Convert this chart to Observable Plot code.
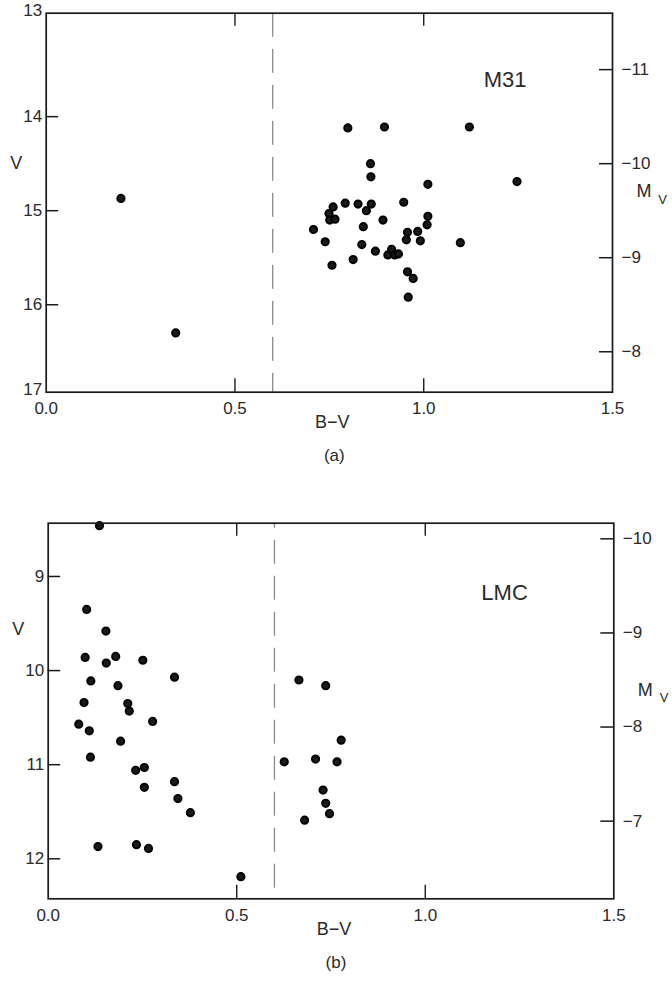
<!DOCTYPE html>
<html>
<head>
<meta charset="utf-8">
<script src="https://cdn.jsdelivr.net/npm/d3@7"></script>
<script src="https://cdn.jsdelivr.net/npm/@observablehq/plot@0.6"></script>
<style>
  html, body { margin: 0; padding: 0; background: #fff; }
  #wrap { width: 672px; height: 982px; position: relative; }
  svg { display: block; }
</style>
</head>
<body>
<div id="wrap"></div>
<script>
// ---- Data: M31 (panel a) ----
const m31BV = [0.799, 0.896, 1.121, 0.859, 0.860, 1.011, 1.247, 0.760, 0.792, 0.826,
               0.848, 0.861, 0.947, 0.749, 0.751, 0.765, 0.892, 1.011, 1.009, 0.708,
               0.840, 0.957, 0.984, 0.954, 0.991, 1.097, 0.739, 0.836, 0.872, 0.905,
               0.915, 0.923, 0.933, 0.813, 0.757, 0.957, 0.972, 0.959, 0.198, 0.343];
const m31V  = [14.12, 14.11, 14.11, 14.50, 14.64, 14.72, 14.69, 14.96, 14.92, 14.93,
               15.00, 14.93, 14.91, 15.03, 15.10, 15.09, 15.10, 15.06, 15.15, 15.20,
               15.17, 15.23, 15.22, 15.31, 15.32, 15.34, 15.33, 15.36, 15.43, 15.47,
               15.41, 15.47, 15.46, 15.52, 15.58, 15.65, 15.72, 15.92, 14.87, 16.30];

// ---- Data: LMC (panel b) ----
const lmcBV = [0.136, 0.102, 0.153, 0.098, 0.154, 0.179, 0.251, 0.335, 0.113, 0.185,
               0.095, 0.211, 0.215, 0.277, 0.081, 0.109, 0.192, 0.112, 0.232, 0.255,
               0.255, 0.335, 0.344, 0.377, 0.132, 0.234, 0.266, 0.511,
               0.665, 0.736, 0.777, 0.626, 0.709, 0.766, 0.729, 0.736, 0.746, 0.680];
const lmcV  = [8.46, 9.35, 9.58, 9.86, 9.92, 9.85, 9.89, 10.07, 10.11, 10.16,
               10.34, 10.35, 10.43, 10.54, 10.57, 10.64, 10.75, 10.92, 11.06, 11.03,
               11.24, 11.18, 11.36, 11.51, 11.87, 11.85, 11.89, 12.19,
               10.10, 10.16, 10.74, 10.97, 10.94, 10.97, 11.27, 11.41, 11.52, 11.59];

// ---- Axes / tick labels ----
const bvDomain = [0, 1.5];
const bvLabels = [0.0, 0.5, 1.0, 1.5];
const bvInnerTicks = [0.5, 1.0];
const bvCut = [0.6];

const m31Domain = [12.9, 16.93];
const m31VTicks = [14, 15, 16];
const m31VCorner = [12.9, 16.93];   // shown as 13 and 17 at frame corners
const m31MTicks = [-11, -10, -9, -8];
const m31DM = 24.5;

const lmcDomain = [8.434, 12.425];
const lmcVTicks = [9, 10, 11, 12];
const lmcMTicks = [-10, -9, -8, -7];
const lmcDM = 18.6;

const FONT = "'Liberation Sans', Arial, Helvetica, sans-serif";
const INK = "#2a2a2a";
const TICKFS = 17;

function panel(cfg) {
  const W = cfg.width - cfg.marginLeft - cfg.marginRight;
  const H = cfg.height - cfg.marginTop - cfg.marginBottom;
  const pts = cfg.bv.map((b, i) => ({bv: b, v: cfg.v[i]}));
  const mPos = cfg.mTicks.map(m => m + cfg.dm);
  const marks = [
    Plot.ruleX(bvCut, {x: d => d, stroke: "#8a8a8a", strokeWidth: 1.3, strokeDasharray: "24,12", strokeDashoffset: cfg.dashOffset}),
    Plot.dot(pts, {x: "bv", y: "v", r: 3.6, fill: "#1a1a1a", stroke: "#000", strokeWidth: 2}),
    Plot.frame({stroke: "#1a1a1a", strokeWidth: 1.7}),
    // inward ticks
    Plot.tickY(cfg.vTicks, {y: d => d, insetRight: W - 12.5, stroke: "#1a1a1a", strokeWidth: 1.5}),
    Plot.tickY(mPos, {y: d => d, insetLeft: W - 13, stroke: "#1a1a1a", strokeWidth: 1.5}),
    Plot.tickX(bvInnerTicks, {x: d => d, insetTop: H - 13.5, stroke: "#1a1a1a", strokeWidth: 1.4}),
    Plot.tickX(bvInnerTicks, {x: d => d, insetBottom: H - 13, stroke: "#1a1a1a", strokeWidth: 1.4}),
    // tick labels
    Plot.axisX(bvLabels, {anchor: "bottom", tickSize: 0, tickPadding: 10, tickFormat: d3.format(".1f"), fontSize: TICKFS, fill: INK, label: null}),
    Plot.axisY(cfg.vTicks, {anchor: "left", tickSize: 0, tickPadding: 4, tickFormat: d => String(d), fontSize: TICKFS, fill: INK, label: null}),
    Plot.axisY(mPos, {anchor: "right", tickSize: 0, tickPadding: 9, tickFormat: v => "\u2212" + Math.round(Math.abs(v - cfg.dm)), fontSize: TICKFS, fill: INK, label: null}),
    // axis titles
    Plot.text(["B\u2212V"], {text: d => d, frameAnchor: "bottom", dx: 3, dy: 36, fontSize: 18, fill: INK}),
    Plot.text([cfg.caption], {text: d => d, frameAnchor: "bottom", dx: 5, dy: 69, fontSize: 17, fill: INK}),
    Plot.text(["V"], {text: d => d, frameAnchor: "left", dx: -36, dy: cfg.vLabelDy, fontSize: 18, fill: INK}),
    Plot.text(["M"], {text: d => d, frameAnchor: "right", dx: 39, dy: cfg.mLabelDy, fontSize: 18, fill: INK}),
    Plot.text(["V"], {text: d => d, frameAnchor: "right", dx: 54.5, dy: cfg.mLabelDy + 8, fontSize: 13, fill: INK}),
    Plot.text([cfg.name], {text: d => d, frameAnchor: "top-right", dx: -86, dy: cfg.nameDy, fontSize: 22, fill: INK})
  ];
  if (cfg.corner) {
    marks.push(Plot.axisY([cfg.corner[0]], {anchor: "left", tickSize: 0, tickPadding: 4, dy: -3, tickFormat: v => String(Math.round(v)), fontSize: TICKFS, fill: INK, label: null}));
    marks.push(Plot.axisY([cfg.corner[1]], {anchor: "left", tickSize: 0, tickPadding: 4, dy: -3, tickFormat: v => String(Math.round(v)), fontSize: TICKFS, fill: INK, label: null}));
  }
  return Plot.plot({
    width: cfg.width,
    height: cfg.height,
    marginLeft: cfg.marginLeft,
    marginRight: cfg.marginRight,
    marginTop: cfg.marginTop,
    marginBottom: cfg.marginBottom,
    style: {fontFamily: FONT, fontSize: "17px", background: "#fff", overflow: "visible"},
    x: {domain: bvDomain, axis: null},
    y: {domain: cfg.domain, reverse: true, axis: null},
    marks
  });
}

const wrap = document.getElementById("wrap");
wrap.appendChild(panel({
  width: 672, height: 490, marginLeft: 45.7, marginRight: 60, marginTop: 12.7, marginBottom: 98.3,
  bv: m31BV, v: m31V, domain: m31Domain, vTicks: m31VTicks, mTicks: m31MTicks, dm: m31DM,
  corner: m31VCorner, caption: "(a)", name: "M31", nameDy: 58.5, vLabelDy: -39, mLabelDy: -11, dashOffset: 0
}));
wrap.appendChild(panel({
  width: 672, height: 492, marginLeft: 47.7, marginRight: 58.7, marginTop: 32.7, marginBottom: 83.7,
  bv: lmcBV, v: lmcV, domain: lmcDomain, vTicks: lmcVTicks, mTicks: lmcMTicks, dm: lmcDM,
  corner: null, caption: "(b)", name: "LMC", nameDy: 60.7, vLabelDy: -82, mLabelDy: -21, dashOffset: 19
}));
</script>
</body>
</html>
